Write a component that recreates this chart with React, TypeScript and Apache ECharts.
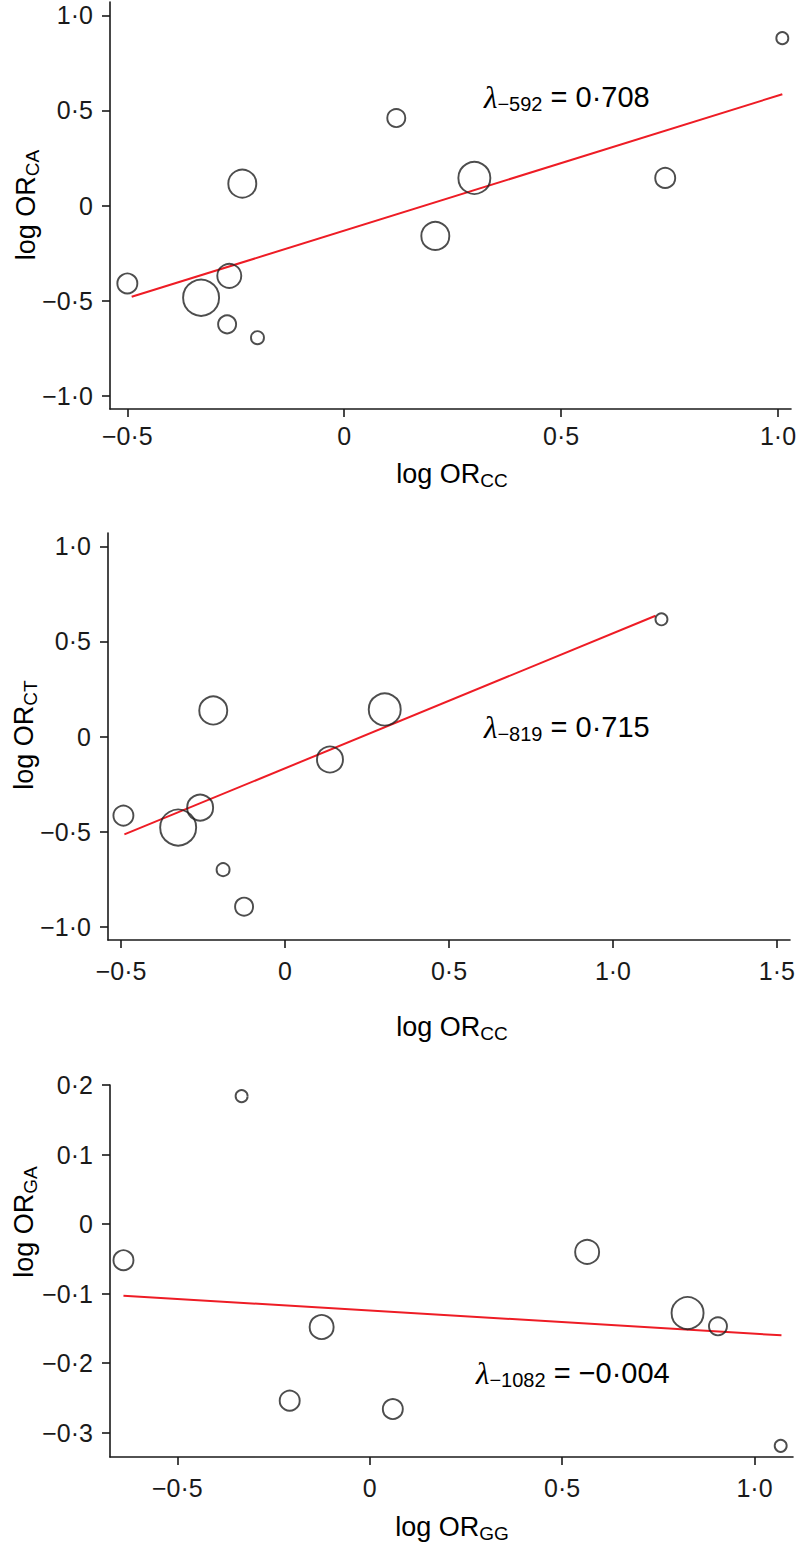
import React, { useEffect, useRef } from "react";
import * as echarts from "echarts";

const FONT = "'Liberation Sans', Arial, Helvetica, sans-serif";
const SERIF = "'Liberation Serif', 'DejaVu Serif', serif";

// Panel 1: log OR_CC vs log OR_CA
const p1X = [1.01, 0.12, 0.30, 0.74, 0.21, -0.235, -0.50, -0.33, -0.265, -0.27, -0.20];
const p1Y = [0.88, 0.46, 0.145, 0.145, -0.16, 0.115, -0.41, -0.485, -0.37, -0.625, -0.695];
const p1S = [12, 18, 32, 20, 28, 28, 20, 36, 24, 18, 13];
const p1FitX = [-0.49, 1.01];
const p1FitY = [-0.48, 0.585];
const p1XTicks = [-0.5, 0, 0.5, 1.0];
const p1YTicks = [-1.0, -0.5, 0, 0.5, 1.0];

// Panel 2: log OR_CC vs log OR_CT
const p2X = [-0.219, 0.304, 0.137, 1.148, -0.493, -0.326, -0.259, -0.189, -0.125];
const p2Y = [0.137, 0.142, -0.121, 0.616, -0.416, -0.479, -0.374, -0.70, -0.895];
const p2S = [28, 32, 26, 12, 20, 36, 26, 13, 18];
const p2FitX = [-0.49, 1.13];
const p2FitY = [-0.515, 0.635];
const p2XTicks = [-0.5, 0, 0.5, 1.0, 1.5];
const p2YTicks = [-1.0, -0.5, 0, 0.5, 1.0];

// Panel 3: log OR_GG vs log OR_GA
const p3X = [-0.64, -0.333, 0.565, 0.826, 0.905, -0.125, -0.208, 0.06, 1.068];
const p3Y = [-0.052, 0.184, -0.04, -0.128, -0.147, -0.148, -0.254, -0.266, -0.319];
const p3S = [20, 12, 24, 32, 18, 24, 20, 20, 12];
const p3FitX = [-0.64, 1.07];
const p3FitY = [-0.103, -0.16];
const p3XTicks = [-0.5, 0, 0.5, 1.0];
const p3YTicks = [-0.3, -0.2, -0.1, 0, 0.1, 0.2];

const fmt = (v: number) =>
  Math.abs(v) < 1e-9 ? "0" : (v < 0 ? "\u2212" : "") + Math.abs(v).toFixed(1).replace(".", "\u00b7");

const AXIS_COLOR = "#1a1a1a";
const TICK_FONT = 25;

function xAxis(i: number, min: number, max: number, ticks: number[], margin: number) {
  return {
    type: "value",
    gridIndex: i,
    min,
    max,
    axisLine: { show: true, onZero: false, lineStyle: { color: AXIS_COLOR, width: 1.6 } },
    axisTick: { show: true, length: 8, customValues: ticks, lineStyle: { color: AXIS_COLOR, width: 1.6 } },
    axisLabel: { customValues: ticks, formatter: fmt, fontSize: TICK_FONT, color: AXIS_COLOR, fontFamily: FONT, margin },
    splitLine: { show: false },
  };
}
function yAxis(i: number, min: number, max: number, ticks: number[]) {
  return {
    type: "value",
    gridIndex: i,
    min,
    max,
    axisLine: { show: true, onZero: false, lineStyle: { color: AXIS_COLOR, width: 1.6 } },
    axisTick: { show: true, length: 8, customValues: ticks, lineStyle: { color: AXIS_COLOR, width: 1.6 } },
    axisLabel: { customValues: ticks, formatter: fmt, fontSize: TICK_FONT, color: AXIS_COLOR, fontFamily: FONT, margin: 17 },
    splitLine: { show: false },
  };
}

function scatter(i: number, xs: number[], ys: number[], ss: number[]) {
  return {
    type: "scatter",
    xAxisIndex: i,
    yAxisIndex: i,
    data: xs.map((x, j) => [x, ys[j], ss[j]]),
    symbolSize: (d: number[]) => d[2],
    itemStyle: { color: "rgba(0,0,0,0)", borderColor: "#202020", borderWidth: 1.9 },
    z: 3,
  };
}
function fit(i: number, xs: number[], ys: number[]) {
  return {
    type: "line",
    xAxisIndex: i,
    yAxisIndex: i,
    data: xs.map((x, j) => [x, ys[j]]),
    symbol: "none",
    lineStyle: { color: "#ee1c25", width: 2 },
    z: 2,
  };
}

const titleRich = {
  a: { fontSize: 27, fontFamily: FONT, color: AXIS_COLOR },
  s: { fontSize: 19, fontFamily: FONT, color: AXIS_COLOR, padding: [13, 0, 0, 0] },
};
const lamRich = {
  l: { fontSize: 31, fontFamily: SERIF, fontStyle: "italic", color: AXIS_COLOR },
  s: { fontSize: 20, fontFamily: FONT, color: AXIS_COLOR, padding: [14, 0, 0, 0] },
  t: { fontSize: 29, fontFamily: FONT, color: AXIS_COLOR },
};

function title(x: number, y: number, main: string, sub: string, vertical: boolean) {
  return {
    type: "text",
    x,
    y,
    rotation: vertical ? Math.PI / 2 : 0,
    style: { text: `{a|${main}}{s|${sub}}`, rich: titleRich, align: "center", verticalAlign: "middle" },
  };
}
function lambda(x: number, y: number, sub: string, val: string) {
  return {
    type: "text",
    x,
    y,
    style: { text: `{l|\u03bb}{s|${sub}}{t| = ${val}}`, rich: lamRich, align: "left", verticalAlign: "middle" },
  };
}

export default function App() {
  const ref = useRef<HTMLDivElement>(null);
  useEffect(() => {
    if (!ref.current) return;
    const chart = echarts.init(ref.current, undefined, { renderer: "svg" });
    chart.setOption({
      animation: false,
      backgroundColor: "#ffffff",
      grid: [
        { left: 110, top: 2, width: 681, height: 407 },
        { left: 108, top: 533, width: 682, height: 407 },
        { left: 110, top: 1085, width: 683, height: 372 },
      ],
      xAxis: [
        xAxis(0, -0.54, 1.03, p1XTicks, 14),
        xAxis(1, -0.54, 1.54, p2XTicks, 18),
        xAxis(2, -0.675, 1.1, p3XTicks, 18),
      ],
      yAxis: [
        yAxis(0, -1.07, 1.07, p1YTicks),
        yAxis(1, -1.07, 1.07, p2YTicks),
        yAxis(2, -0.335, 0.2, p3YTicks),
      ],
      series: [
        fit(0, p1FitX, p1FitY),
        scatter(0, p1X, p1Y, p1S),
        fit(1, p2FitX, p2FitY),
        scatter(1, p2X, p2Y, p2S),
        fit(2, p3FitX, p3FitY),
        scatter(2, p3X, p3Y, p3S),
      ],
      graphic: [
        title(452, 474, "log OR", "CC", false),
        title(26, 205, "log OR", "CA", true),
        title(452, 1027, "log OR", "CC", false),
        title(24, 735, "log OR", "CT", true),
        title(452, 1527, "log OR", "GG", false),
        title(24, 1222, "log OR", "GA", true),
        lambda(484, 97, "\u2212592", "0\u00b7708"),
        lambda(484, 727, "\u2212819", "0\u00b7715"),
        lambda(476, 1373, "\u22121082", "\u22120\u00b7004"),
      ],
    });
    return () => chart.dispose();
  }, []);
  return <div ref={ref} style={{ position: "absolute", left: 0, top: 0, width: 801, height: 1556 }} />;
}
